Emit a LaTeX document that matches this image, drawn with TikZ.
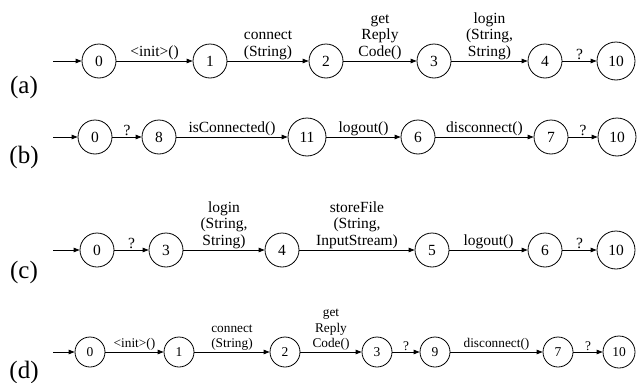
\documentclass[tikz,border=0pt]{standalone}
\usepackage{fontspec}
\setmainfont{Liberation Serif}
\usetikzlibrary{arrows.meta}
\begin{document}
\begin{tikzpicture}[x=1pt,y=-1pt,
 st/.style={circle,draw,line width=0.8pt,inner sep=0pt,minimum size=34pt,font=\fontsize{15.5}{17}\selectfont},
 stw/.style={st,minimum size=38pt},
 ds/.style={st,minimum size=30pt,font=\fontsize{13.5}{15}\selectfont},
 dsw/.style={ds,minimum size=32pt},
 tr/.style={draw,line width=0.8pt,-{Triangle[length=6pt,width=4.5pt]}},
 lb/.style={above,inner sep=1pt,align=center,font=\fontsize{15.5}{16.5}\selectfont},
 dlb/.style={lb,font=\fontsize{13.3}{15.5}\selectfont},
 rl/.style={font=\fontsize{25}{28}\selectfont}
]
\useasboundingbox (0,0) rectangle (638,383);
% row (a)
\node[rl] (la) at (24,87) {(a)};
\coordinate (as) at (53,61);
\node[st] (a0) at (99,61) {0};
\node[st] (a1) at (210,61) {1};
\node[st] (a2) at (326,61) {2};
\node[st] (a3) at (434,61) {3};
\node[st] (a4) at (545,61) {4};
\node[stw] (a10) at (616,61) {10};
\draw[tr] (as) -- (a0);
\draw[tr] (a0) -- node[lb]{<init>()} (a1);
\draw[tr] (a1) -- node[lb]{connect\\(String)} (a2);
\draw[tr] (a2) -- node[lb]{get\\Reply\\Code()} (a3);
\draw[tr] (a3) -- node[lb]{login\\(String,\\String)} (a4);
\draw[tr] (a4) -- node[lb]{?} (a10);
% row (b)
\node[rl] (lbb) at (24,157) {(b)};
\coordinate (bs) at (53,137);
\node[st] (b0) at (95,137) {0};
\node[st] (b8) at (159,137) {8};
\node[stw] (b11) at (307,137) {11};
\node[st] (b6) at (418,137) {6};
\node[st] (b7) at (551,137) {7};
\node[stw] (b10) at (617,137) {10};
\draw[tr] (bs) -- (b0);
\draw[tr] (b0) -- node[lb]{?} (b8);
\draw[tr] (b8) -- node[lb]{isConnected()} (b11);
\draw[tr] (b11) -- node[lb]{logout()} (b6);
\draw[tr] (b6) -- node[lb]{disconnect()} (b7);
\draw[tr] (b7) -- node[lb]{?} (b10);
% row (c)
\node[rl] (lc) at (24,272) {(c)};
\coordinate (cs) at (53,250);
\node[st] (c0) at (97,250) {0};
\node[st] (c3) at (166,250) {3};
\node[st] (c4) at (282,250) {4};
\node[st] (c5) at (432,250) {5};
\node[st] (c6) at (545,250) {6};
\node[stw] (c10) at (616,250) {10};
\draw[tr] (cs) -- (c0);
\draw[tr] (c0) -- node[lb]{?} (c3);
\draw[tr] (c3) -- node[lb]{login\\(String,\\String)} (c4);
\draw[tr] (c4) -- node[lb]{storeFile\\(String,\\InputStream)} (c5);
\draw[tr] (c5) -- node[lb]{logout()} (c6);
\draw[tr] (c6) -- node[lb]{?} (c10);
% row (d)
\node[rl] (ld) at (24,372) {(d)};
\coordinate (ds0) at (53,352);
\node[ds] (d0) at (90,352) {0};
\node[ds] (d1) at (179,352) {1};
\node[ds] (d2) at (285,352) {2};
\node[ds] (d3) at (377,352) {3};
\node[ds] (d9) at (435,352) {9};
\node[ds] (d7) at (558,352) {7};
\node[dsw] (d10) at (619,352) {10};
\draw[tr] (ds0) -- (d0);
\draw[tr] (d0) -- node[dlb]{<init>()} (d1);
\draw[tr] (d1) -- node[dlb]{connect\\(String)} (d2);
\draw[tr] (d2) -- node[dlb]{get\\Reply\\Code()} (d3);
\draw[tr] (d3) -- node[dlb]{?} (d9);
\draw[tr] (d9) -- node[dlb]{disconnect()} (d7);
\draw[tr] (d7) -- node[dlb]{?} (d10);
\end{tikzpicture}
\end{document}
